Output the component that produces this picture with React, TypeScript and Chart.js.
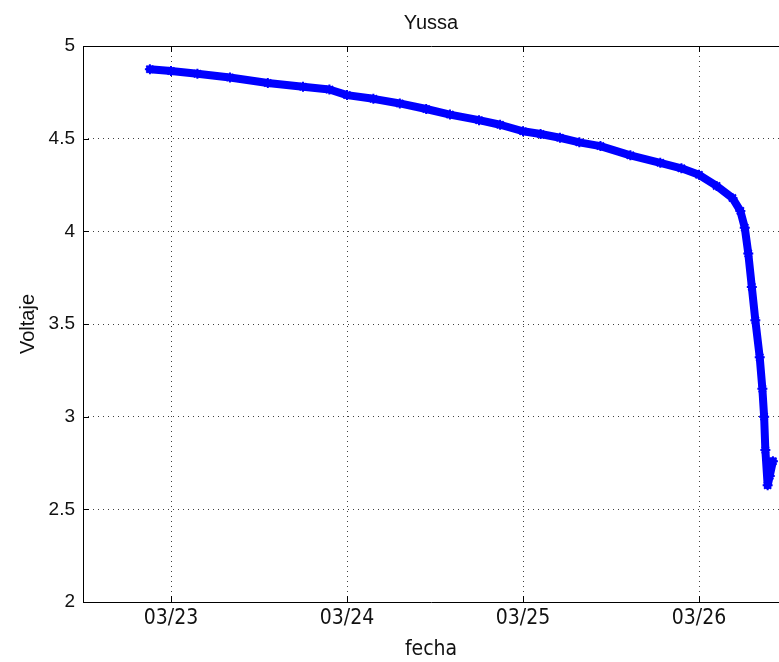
import React, { useEffect, useRef } from "react";
import { Chart, registerables } from "chart.js";

Chart.register(...registerables);

const titleText = "Yussa";
const xLabel = "fecha";
const yLabel = "Voltaje";

// x as day-of-month (March), y in volts
const days = [
  22.88, 23.0, 23.15, 23.335, 23.55, 23.75, 23.9, 24.0, 24.15, 24.3, 24.45,
  24.585, 24.75, 24.87, 25.0, 25.1, 25.21, 25.32, 25.44, 25.61, 25.78, 25.9,
  26.0, 26.1, 26.19, 26.235, 26.26, 26.28, 26.3, 26.32, 26.345, 26.36, 26.37,
  26.377, 26.39, 26.402, 26.42,
];
const volts = [
  4.875, 4.865, 4.85, 4.83, 4.8, 4.78, 4.765, 4.735, 4.715, 4.69, 4.66, 4.63,
  4.6, 4.575, 4.54, 4.525, 4.505, 4.48, 4.46, 4.41, 4.37, 4.34, 4.305, 4.245,
  4.18, 4.11, 4.02, 3.88, 3.7, 3.52, 3.32, 3.15, 3.0, 2.82, 2.63, 2.68, 2.76,
];
const xTickDays = [23, 24, 25, 26];
const xTickLabels = ["03/23", "03/24", "03/25", "03/26"];
const xMin = 22.5;
const xMax = 26.4545;
const yMin = 2;
const yMax = 5;
const yStep = 0.5;

const narrow = "'Liberation Sans Narrow', 'DejaVu Sans Condensed', 'Liberation Sans', sans-serif";
const regular = "'Liberation Sans', Arial, sans-serif";

const frame = {
  id: "matlabFrame",
  afterDraw(chart: any) {
    const { ctx, chartArea } = chart;
    const { left, right, top, bottom } = chartArea;
    ctx.save();
    ctx.strokeStyle = "#000";
    ctx.lineWidth = 1;
    ctx.beginPath();
    ctx.moveTo(left + 0.5, top + 0.5);
    ctx.lineTo(right + 0.5, top + 0.5);
    ctx.moveTo(left + 0.5, top + 0.5);
    ctx.lineTo(left + 0.5, bottom + 0.5);
    ctx.lineTo(right + 0.5, bottom + 0.5);
    const xs = chart.scales.x;
    const ys = chart.scales.y;
    const tl = 6;
    xTickDays.forEach((d) => {
      const px = Math.round(xs.getPixelForValue(d)) + 0.5;
      ctx.moveTo(px, bottom);
      ctx.lineTo(px, bottom - tl);
      ctx.moveTo(px, top);
      ctx.lineTo(px, top + tl);
    });
    for (let v = yMin; v <= yMax + 1e-9; v += yStep) {
      const py = Math.round(ys.getPixelForValue(v)) + 0.5;
      ctx.moveTo(left, py);
      ctx.lineTo(left + tl, py);
    }
    ctx.stroke();
    ctx.restore();
  },
};

export default function App() {
  const ref = useRef<HTMLCanvasElement | null>(null);
  useEffect(() => {
    document.body.style.margin = "0";
    const canvas = ref.current;
    if (!canvas) return;
    const chart = new Chart(canvas, {
      type: "scatter",
      data: {
        datasets: [
          {
            data: days.map((d, i) => ({ x: d, y: volts[i] })),
            showLine: true,
            borderColor: "#0000ff",
            backgroundColor: "#0000ff",
            borderWidth: 8,
            borderJoinStyle: "round",
            borderCapStyle: "round",
            pointStyle: "star",
            pointRadius: 5,
            pointBorderWidth: 2,
            pointBorderColor: "#0000ff",
            tension: 0,
          },
        ],
      },
      options: {
        responsive: false,
        animation: false,
        layout: { padding: 0, autoPadding: false },
        plugins: {
          legend: { display: false },
          tooltip: { enabled: false },
          title: {
            display: true,
            text: titleText,
            fullSize: false,
            color: "#111",
            font: { family: regular, size: 20, weight: "normal" },
            padding: { top: 11, bottom: 11 },
          },
        },
        scales: {
          x: {
            type: "linear",
            min: xMin,
            max: xMax,
            afterBuildTicks: (scale: any) => {
              scale.ticks = xTickDays.map((v) => ({ value: v }));
            },
            afterFit: (scale: any) => {
              scale.height = 60;
            },
            ticks: {
              callback: (v: any) => {
                const i = xTickDays.indexOf(Number(v));
                return i >= 0 ? xTickLabels[i] : "";
              },
              color: "#111",
              font: { family: narrow, size: 21 },
              padding: 4,
              maxRotation: 0,
              autoSkip: false,
            },
            grid: {
              color: "rgba(0,0,0,0.75)",
              drawTicks: false,
            },
            border: { display: false, dash: [1, 4] },
            title: {
              display: true,
              text: xLabel,
              color: "#111",
              font: { family: narrow, size: 21 },
              padding: { top: 6, bottom: 0 },
            },
          },
          y: {
            type: "linear",
            min: yMin,
            max: yMax,
            afterFit: (scale: any) => {
              scale.width = 83;
            },
            ticks: {
              stepSize: yStep,
              callback: (v: any) => String(Number(v)),
              color: "#111",
              font: { family: regular, size: 19 },
              padding: 8,
            },
            grid: {
              color: "rgba(0,0,0,0.75)",
              drawTicks: false,
            },
            border: { display: false, dash: [1, 4] },
            title: {
              display: true,
              text: yLabel,
              color: "#111",
              font: { family: regular, size: 20 },
              padding: { top: 16, bottom: 0 },
            },
          },
        },
      },
      plugins: [frame],
    } as any);
    return () => chart.destroy();
  }, []);
  return (
    <div style={{ position: "absolute", left: 0, top: 0, width: 779, height: 662, background: "#fff" }}>
      <canvas ref={ref} width={779} height={662} />
    </div>
  );
}
